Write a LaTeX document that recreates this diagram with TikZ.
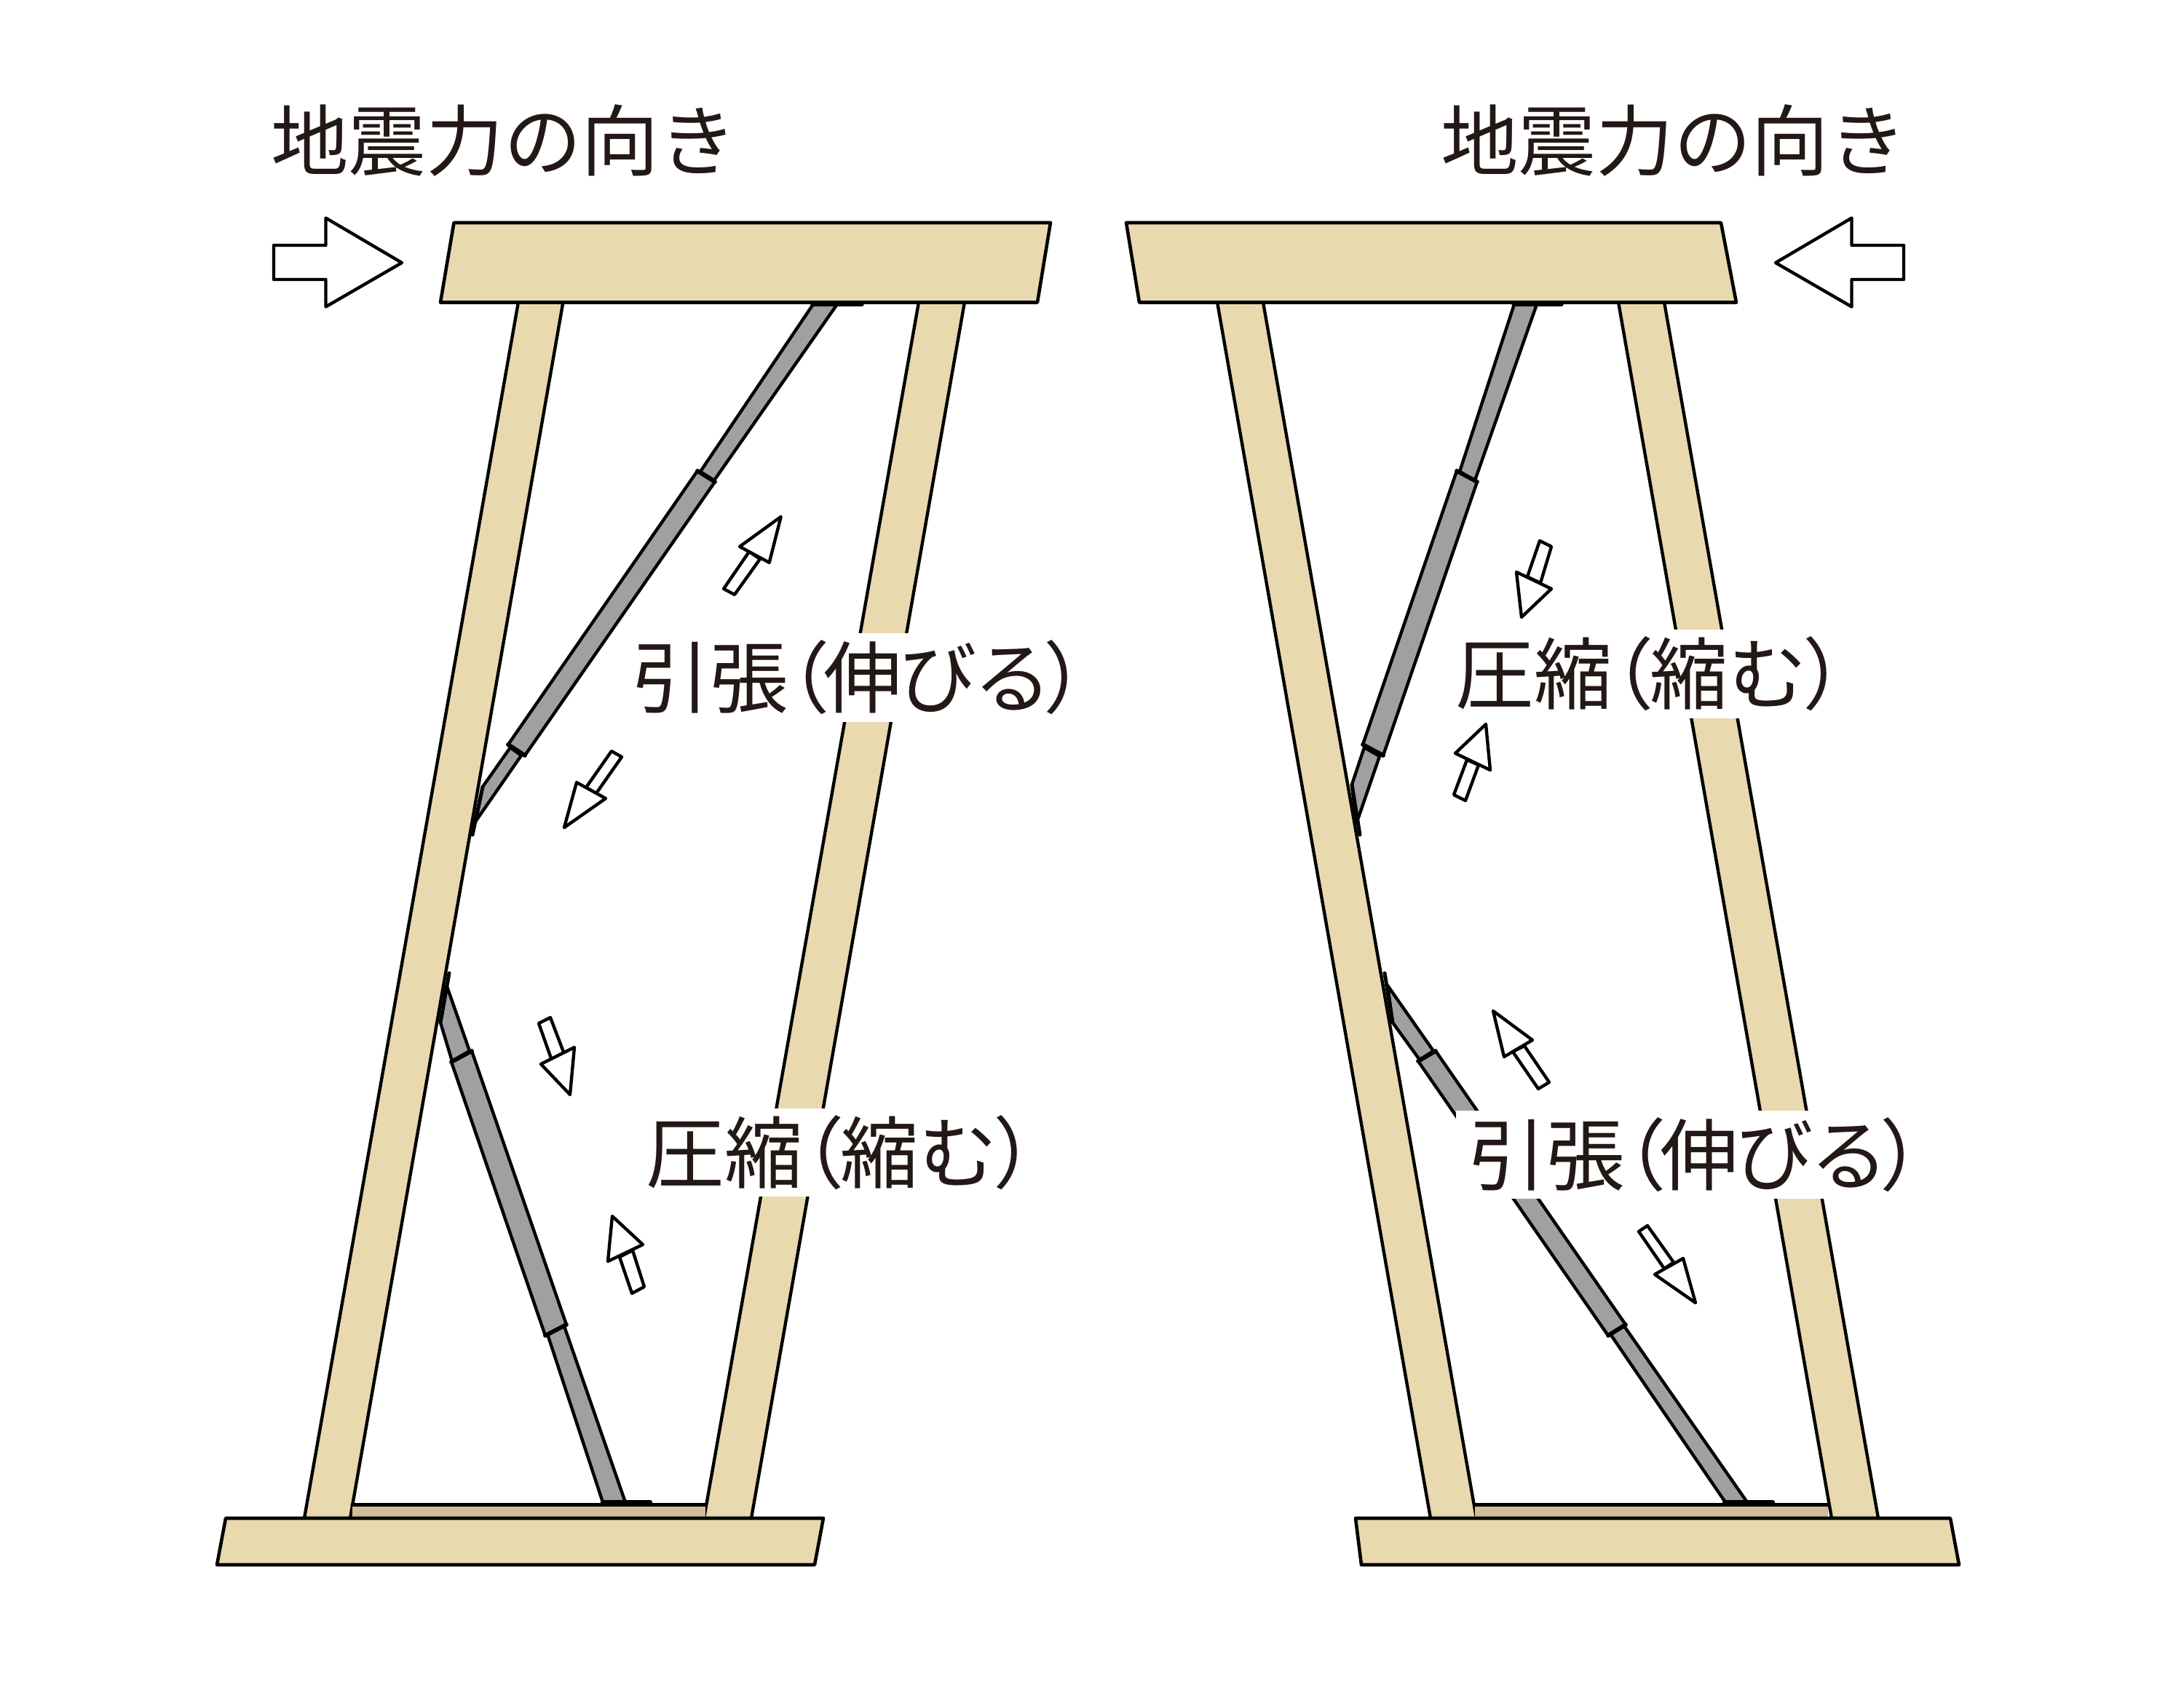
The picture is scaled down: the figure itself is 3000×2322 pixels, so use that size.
\documentclass[tikz,border=0pt]{standalone}
\usepackage{fontspec}
\setmainfont{Noto Sans CJK JP}
\definecolor{wood}{HTML}{E9D9AE}
\definecolor{sillc}{HTML}{D1BB98}
\definecolor{steel}{HTML}{A0A0A2}
\definecolor{ink}{HTML}{231815}
\newcommand{\LP}{\kern-.47em（\kern-.08em}
\newcommand{\RP}{\kern-.11em）\kern-.47em}
\newcommand{\LPb}{\kern-.47em（\kern-.05em}
\newcommand{\RPb}{\kern-.05em）\kern-.47em}
\newcommand{\tensiontext}{引張\LP 伸\kern-.04em び\kern-.04em る\RP}
\newcommand{\compresstext}{圧縮\LPb 縮む\RPb}
\tikzset{
  beam/.style={fill=wood,draw=black,line width=1.1pt,line join=round},
  post/.style={fill=wood,draw=black,line width=1.05pt},
  sillpart/.style={fill=sillc,draw=none},
  brace/.style={fill=steel,draw=black,line width=1.05pt,line join=round},
  bracket/.style={draw=black,line width=1.2pt,line cap=round},
  joint/.style={draw=black,line width=1.4pt,line cap=round},
  forcearrow/.style={fill=white,draw=black,line width=1.05pt,line join=round},
  titlelbl/.style={inner sep=0,text=ink,font=\fontsize{25.6}{30}\selectfont},
  boxlbl/.style={inner sep=0,fill=white,text=ink,font=\fontsize{25.8}{30}\selectfont},
}
% tip, head corner, head corner, neck, tail, tail, neck
\newcommand{\smallforce}[7]{%
  \draw[forcearrow] (#4) -- (#5) -- (#6) -- (#7) -- cycle;
  \draw[forcearrow] (#1) -- (#2) -- (#3) -- cycle;
}
\begin{document}
\begin{tikzpicture}[x=0.24pt,y=-0.24pt]
\useasboundingbox (0,0) rectangle (3000,2322);
% ---------- left frame ----------
\draw[post] (712,415) -- (773.5,415) -- (481,2086) -- (418,2086) -- cycle;
\draw[post] (1262,415) -- (1325,415) -- (1032,2086) -- (967,2086) -- cycle;
\fill[sillpart] (484,2067) rectangle (969,2086);
\draw[bracket] (484,2067) -- (969,2067);
% upper brace
\draw[brace] (1117,418) -- (1150,418) -- (981,660) -- (962,648) -- cycle;
\draw[brace] (958,647) -- (982,662) -- (721,1038) -- (698,1023) -- cycle;
\draw[brace] (701,1027) -- (716,1038) -- (653,1129) -- (663,1081) -- cycle;
\draw[joint] (958,647) -- (982,662);
\draw[joint] (698,1023) -- (721,1038);
\draw[bracket] (663,1081) -- (649,1147);
\draw[bracket,line width=1.3pt] (1116,418) -- (1184,418);
% lower brace
\draw[brace] (613.5,1354) -- (645,1444) -- (621,1458) -- (605,1405) -- cycle;
\draw[brace] (648,1444) -- (778,1820) -- (749,1835) -- (620,1459) -- cycle;
\draw[brace] (775,1822) -- (859,2064) -- (828,2064) -- (752,1833) -- cycle;
\draw[joint] (648,1444) -- (620,1459);
\draw[joint] (778,1820) -- (749,1835);
\draw[bracket] (617,1337) -- (605,1405);
\draw[bracket,line width=1.5pt] (828,2064) -- (893,2064);
% beams
\draw[beam] (623.5,306) -- (1443,306) -- (1425,415.5) -- (605,415.5) -- cycle;
\draw[beam] (310,2086) -- (1131,2086) -- (1119,2150) -- (298,2150) -- cycle;
% ---------- right frame ----------
\draw[post] (1672,415) -- (1735,415) -- (2028,2086) -- (1965,2086) -- cycle;
\draw[post] (2223,415) -- (2286,415) -- (2580,2086) -- (2516,2086) -- cycle;
\fill[sillpart] (2026,2067) rectangle (2511,2086);
\draw[bracket] (2026,2067) -- (2511,2067);
% upper brace
\draw[brace] (2080,418) -- (2111,418) -- (2026,660) -- (2005,648) -- cycle;
\draw[brace] (2001,647) -- (2029,662) -- (1900,1038) -- (1872,1023) -- cycle;
\draw[brace] (1874,1027) -- (1895,1039) -- (1863,1132) -- (1857,1078) -- cycle;
\draw[joint] (2001,647) -- (2029,662);
\draw[joint] (1872,1023) -- (1900,1038);
\draw[bracket] (1857,1078) -- (1868,1147);
\draw[bracket,line width=1.3pt] (2079,418) -- (2145,418);
% lower brace
\draw[brace] (1906,1354) -- (1969,1444) -- (1950,1456) -- (1913,1405) -- cycle;
\draw[brace] (1972,1444) -- (2233,1820) -- (2209,1835) -- (1948,1458) -- cycle;
\draw[brace] (2231,1822) -- (2400,2064) -- (2370,2064) -- (2212,1833) -- cycle;
\draw[joint] (1972,1444) -- (1948,1458);
\draw[joint] (2233,1820) -- (2209,1835);
\draw[bracket] (1902,1337) -- (1913,1405);
\draw[bracket,line width=1.5pt] (2369,2064) -- (2435,2064);
% beams
\draw[beam] (1547,306) -- (2364,306) -- (2385,415.5) -- (1565,415.5) -- cycle;
\draw[beam] (1862,2086) -- (2679,2086) -- (2691,2150) -- (1870,2150) -- cycle;
% ---------- big arrows ----------
\draw[forcearrow] (376,337) -- (447.5,337) -- (447.5,299.5) -- (552,361) -- (447.5,421.5) -- (447.5,384) -- (376,384) -- cycle;
\draw[forcearrow] (2615,337) -- (2543.5,337) -- (2543.5,299.5) -- (2439,361) -- (2543.5,421.5) -- (2543.5,384) -- (2615,384) -- cycle;
% ---------- small arrows ----------
\smallforce{1072.7,710}{1016,751}{1056.7,773}{1029,758}{994,809}{1009,817}{1044,768}
\smallforce{775,1137}{792,1075}{832,1097}{805,1082}{840,1032}{854,1040}{819,1090}
\smallforce{783,1504}{743,1462}{789,1439}{757.5,1455.5}{740,1406}{756,1398}{774.5,1446.5}
\smallforce{841,1671}{883,1710}{835,1733}{869,1718}{885,1768}{868,1777}{851,1727}
\smallforce{2090,848}{2131,809}{2083,786}{2116,801}{2131,751}{2115,743}{2098,792.5}
\smallforce{2041,995}{1999,1035}{2047,1058}{2015,1044}{1997,1092}{2013,1100}{2031,1051}
\smallforce{2051,1389}{2105,1429}{2066,1452}{2094,1437}{2128,1487}{2113,1496}{2078,1445}
\smallforce{2329,1790}{2312,1729}{2273,1751}{2299,1734.5}{2263,1684}{2251,1692}{2286,1743}
% ---------- labels ----------
\node[titlelbl] (titleL) at (692,193) {地震力の向き};
\node[titlelbl] (titleR) at (2299,193) {地震力の向き};
\node[boxlbl,minimum width=637*0.24pt,minimum height=122*0.24pt] (tensL) at (1171.5,931) {\kern3.6pt\raisebox{-.3pt}{\tensiontext}};
\node[boxlbl,minimum width=546*0.24pt,minimum height=121*0.24pt] (compL) at (1142,1583.5) {\kern6pt\raisebox{-.7pt}{\compresstext}};
\node[boxlbl,minimum width=542*0.24pt,minimum height=122*0.24pt] (compR) at (2256,926) {\kern5pt\raisebox{-.3pt}{\compresstext}};
\node[boxlbl,minimum width=637*0.24pt,minimum height=121*0.24pt] (tensR) at (2319.5,1586.5) {\kern4pt\raisebox{-.7pt}{\tensiontext}};
\end{tikzpicture}
\end{document}
